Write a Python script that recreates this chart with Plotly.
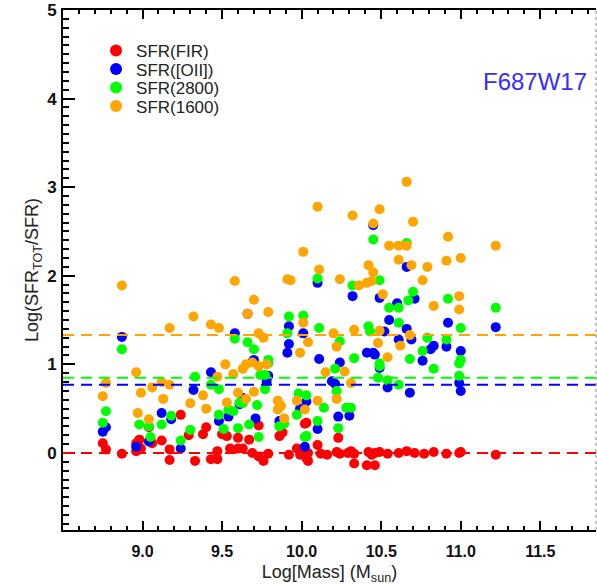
import plotly.graph_objects as go

# ---------------- data ----------------
fir_mass = [8.75, 8.77, 8.87, 8.96, 8.98, 8.96, 8.99, 9.04, 9.05, 9.06, 9.12, 9.17, 9.17, 9.24, 9.29,
            9.33, 9.38, 9.40, 9.43, 9.47, 9.47, 9.50, 9.53, 9.55, 9.60, 9.60, 9.63, 9.67, 9.69, 9.73,
            9.73, 9.76, 9.79, 9.86, 9.88, 9.92, 9.97, 9.99, 10.03, 10.04, 10.03, 10.02, 10.10, 10.12,
            10.00, 10.04, 10.16, 10.22, 10.24, 10.29, 10.31, 10.33, 10.42, 10.44, 10.46, 10.49, 10.54,
            10.61, 10.66, 10.71, 10.77, 10.83, 10.91, 10.99, 11.00, 10.23, 10.33, 10.41, 10.46, 11.22]
fir_val = [0.11, 0.04, -0.01, 0.11, 0.15, 0.02, 0.05, 0.29, 0.15, 0.11, 0.14, 0.04, -0.08, 0.43, 0.20,
           -0.09, 0.21, 0.29, -0.07, -0.07, 0.02, 0.21, 0.19, 0.05, 0.17, 0.05, 0.05, 0.15, 0.00, 0.31,
           -0.04, -0.09, -0.01, 0.19, 0.23, -0.02, 0.05, -0.02, -0.06, -0.09, 0.34, 0.33, 0.09, -0.01,
           0.01, 0.00, -0.02, 0.01, -0.01, 0.00, 0.02, -0.01, 0.01, -0.02, 0.00, 0.01, -0.01,
           0.00, 0.02, 0.00, -0.01, 0.01, -0.01, 0.00, 0.01, 0.17, -0.12, -0.14, -0.14, -0.02]

oii_mass = [8.75, 8.77, 8.87, 8.96, 9.04, 9.12, 9.18, 9.24, 9.32, 9.43, 9.48, 9.54, 9.58, 9.61, 9.63,
            9.66, 9.69, 9.70, 9.71, 9.78, 9.79, 9.86, 9.91, 9.92, 9.92, 9.99, 10.01, 10.02, 10.03,
            10.10, 10.10, 10.11, 10.19, 10.21, 10.23, 10.24, 10.30, 10.32, 10.41, 10.45, 10.45, 10.46,
            10.49, 10.49, 10.52, 10.54, 10.55, 10.60, 10.61, 10.66, 10.66, 10.68, 10.69, 10.71, 10.76,
            10.81, 10.83, 10.91, 10.92, 11.00, 10.99, 11.00, 11.22]
oii_val = [0.24, 0.29, 1.31, 0.07, 0.13, 0.45, 0.38, 0.05, 0.71, 0.91, 0.36, 0.41, 1.35, 0.55, 0.62,
           1.57, 1.03, 1.05, 0.39, 0.80, 0.87, 0.36, 1.13, 1.23, 1.43, 0.50, 1.35, 0.07, 0.58,
           0.27, 1.92, 1.06, 0.81, 0.78, 0.41, 1.02, 0.42, 1.77, 1.13, 1.13, 2.57, 1.11,
           1.75, 0.96, 1.37, 0.74, 1.50, 1.69, 1.28, 1.40, 2.10, 0.68, 1.28, 1.74, 1.04,
           1.17, 1.21, 1.20, 1.47, 1.15, 0.79, 0.70, 1.42]

nuv_mass = [8.75, 8.77, 8.87, 8.98, 9.04, 9.05, 9.12, 9.18, 9.24, 9.30, 9.33, 9.43, 9.48, 9.48, 9.51,
            9.54, 9.57, 9.58, 9.60, 9.61, 9.63, 9.66, 9.67, 9.70, 9.72, 9.73, 9.74, 9.77, 9.77, 9.79,
            9.79, 9.86, 9.89, 9.91, 9.92, 9.97, 9.98, 10.01, 10.02, 10.03, 10.03, 10.10, 10.10, 10.11,
            10.14, 10.21, 10.22, 10.23, 10.24, 10.28, 10.31, 10.32, 10.33, 10.42, 10.43, 10.45, 10.48,
            10.49, 10.49, 10.49, 10.54, 10.55, 10.61, 10.61, 10.61, 10.66, 10.67, 10.68, 10.70, 10.76,
            10.79, 10.83, 10.91, 10.92, 10.99, 10.99, 11.00, 11.00, 11.22]
nuv_val = [0.34, 0.47, 1.17, 0.32, 0.30, 0.18, 0.32, 0.42, 0.14, 0.26, 0.86, 0.77, 0.72, 0.43, 0.27,
           0.49, 0.47, 1.29, 0.28, 0.57, 0.56, 1.25, 0.32, 1.17, 0.54, 0.18, 0.88, 0.88, 0.72, 1.01,
           1.05, 0.30, 0.33, 1.35, 1.54, 0.43, 0.67, 1.55, 0.18, 0.65, 0.19, 0.36, 1.97, 1.41,
           0.51, 0.95, 0.70, 0.28, 1.26, 0.51, 0.51, 1.89, 1.07, 1.43, 1.37, 2.41, 0.85,
           1.95, 1.01, 0.98, 0.82, 1.64, 1.64, 1.47, 0.77, 2.37, 1.72, 1.06, 1.82, 1.15,
           1.30, 0.95, 1.28, 1.74, 1.01, 0.87, 1.41, 1.05, 1.64]

fuv_mass = [8.75, 8.77, 8.87, 8.96, 8.97, 8.99, 9.04, 9.06, 9.12, 9.13, 9.17, 9.17, 9.30, 9.32, 9.38,
            9.40, 9.43, 9.47, 9.48, 9.52, 9.53, 9.57, 9.58, 9.60, 9.63, 9.65, 9.65, 9.66, 9.69, 9.70,
            9.70, 9.73, 9.73, 9.76, 9.78, 9.79, 9.85, 9.85, 9.87, 9.89, 9.91, 9.93, 9.97, 9.99, 10.01,
            10.01, 10.02, 10.04, 10.10, 10.10, 10.11, 10.15, 10.20, 10.22, 10.22, 10.24, 10.27, 10.31,
            10.32, 10.33, 10.36, 10.41, 10.42, 10.44, 10.45, 10.45, 10.48, 10.49, 10.49, 10.51, 10.54,
            10.55, 10.61, 10.61, 10.62, 10.66, 10.66, 10.68, 10.69, 10.70, 10.76, 10.79, 10.83, 10.91,
            10.92, 10.99, 10.99, 11.00, 11.22]
fuv_val = [0.64, 0.79, 1.89, 0.91, 0.45, 0.68, 0.38, 0.74, 0.80, 0.61, 0.77, 1.41, 0.56, 1.54, 0.65,
           0.50, 1.45, 0.86, 1.41, 1.00, 0.57, 0.89, 1.94, 0.68, 0.95, 0.61, 1.00, 1.57, 1.02, 0.69,
           1.73, 0.98, 1.35, 1.30, 1.00, 1.59, 0.49, 0.59, 0.53, 0.39, 1.96, 1.95, 0.59, 1.13, 1.47,
           2.27, 0.49, 1.25, 0.59, 2.78, 2.07, 0.91, 1.35, 1.20, 0.61, 1.96, 0.92, 0.79,
           2.68, 1.39, 1.89, 1.92, 2.12, 1.94, 2.59, 2.04, 1.24, 1.38, 2.75, 1.79, 1.08,
           2.34, 2.34, 2.18, 1.21, 2.34, 3.06, 1.33, 2.12, 2.61, 1.95, 2.10, 1.66, 2.17,
           2.44, 1.77, 1.62, 2.20, 2.34]

# median levels (dashed lines)
level_names = ["FIR", "OII", "2800", "1600"]
level_vals = [0.0, 0.77, 0.85, 1.33]

series_names = ["SFR(FIR)", "SFR([OII])", "SFR(2800)", "SFR(1600)"]
series_colors = ["#ff0000", "#0000ff", "#00ff00", "#ffa500"]
series_x = [fir_mass, oii_mass, nuv_mass, fuv_mass]
series_y = [fir_val, oii_val, nuv_val, fuv_val]

x_ticks = [9.0, 9.5, 10.0, 10.5, 11.0, 11.5]
y_ticks = [0, 1, 2, 3, 4, 5]

FONT = "Liberation Sans, Arial, sans-serif"

# plot-area geometry (pixels)
W, H = 597, 585
ML, MR, MT, MB = 63, 1, 10, 55
PH = H - MT - MB

legend_ids = ["legend", "legend2", "legend3", "legend4"]
legend_rows_px = [51, 69.5, 88, 106.5]

fig = go.Figure()
for name, col, xs, ys, lid in zip(series_names, series_colors, series_x, series_y, legend_ids):
    fig.add_trace(go.Scatter(
        x=xs, y=ys, mode="markers", name=name, legend=lid,
        marker=dict(color=col, size=10, line=dict(width=0)),
    ))

for val, col in zip(level_vals, series_colors):
    fig.add_shape(type="line", xref="paper", x0=0, x1=1, yref="y", y0=val, y1=val,
                  line=dict(color=col, width=2, dash="11px,7px"), layer="above")

# right frame (faint)
fig.add_shape(type="line", xref="paper", x0=1, x1=1, yref="paper", y0=0, y1=1,
              line=dict(color="#888888", width=1, dash="dot"), layer="above")

fig.add_annotation(text="F687W17", xref="paper", yref="paper", x=0.987, y=1 - (82 - MT) / PH,
                   xanchor="right", yanchor="middle", showarrow=False,
                   font=dict(family=FONT, size=24, color="#3a2cff"))

legend_layout = {}
for lid, row in zip(legend_ids, legend_rows_px):
    legend_layout[lid] = dict(
        x=0.062, y=1 - (row - MT) / PH, xanchor="left", yanchor="middle",
        bgcolor="rgba(0,0,0,0)", borderwidth=0,
        font=dict(family=FONT, size=17, color="#222222"),
        itemsizing="constant",
    )

fig.update_layout(
    width=W, height=H,
    margin=dict(l=ML, r=MR, t=MT, b=MB),
    paper_bgcolor="white", plot_bgcolor="white",
    font=dict(family=FONT, color="#111111"),
    showlegend=True,
    **legend_layout,
    xaxis=dict(
        range=[8.5, 11.85], showgrid=False, zeroline=False,
        showline=True, linecolor="black", linewidth=2, mirror="allticks",
        ticks="inside", ticklen=9, tickwidth=1.5, tickcolor="black",
        tickvals=x_ticks, ticktext=[f"{v:.1f}" for v in x_ticks],
        tickfont=dict(family=FONT, size=16, color="#111111", weight="bold"),
        ticklabelstandoff=6,
        minor=dict(ticks="inside", ticklen=4, tickwidth=1.5, tickcolor="black",
                   tick0=8.5, dtick=0.1, showgrid=False),
        title=dict(text="Log[Mass] (M<sub>sun</sub>)", standoff=6,
                   font=dict(family=FONT, size=18, color="#222222")),
    ),
    yaxis=dict(
        range=[-0.87, 5.0], showgrid=False, zeroline=False,
        showline=True, linecolor="black", linewidth=2,
        ticks="inside", ticklen=12, tickwidth=1.5, tickcolor="black",
        tickvals=y_ticks, ticktext=[str(v) for v in y_ticks],
        tickfont=dict(family=FONT, size=17, color="#111111", weight="bold"),
        ticklabelstandoff=1,
        minor=dict(ticks="inside", ticklen=6, tickwidth=1.5, tickcolor="black",
                   tick0=0, dtick=0.1, showgrid=False),
        title=dict(text="Log(SFR<sub>TOT</sub>/SFR)", standoff=4,
                   font=dict(family=FONT, size=18, color="#222222")),
    ),
)

fig.write_html("out.html")
